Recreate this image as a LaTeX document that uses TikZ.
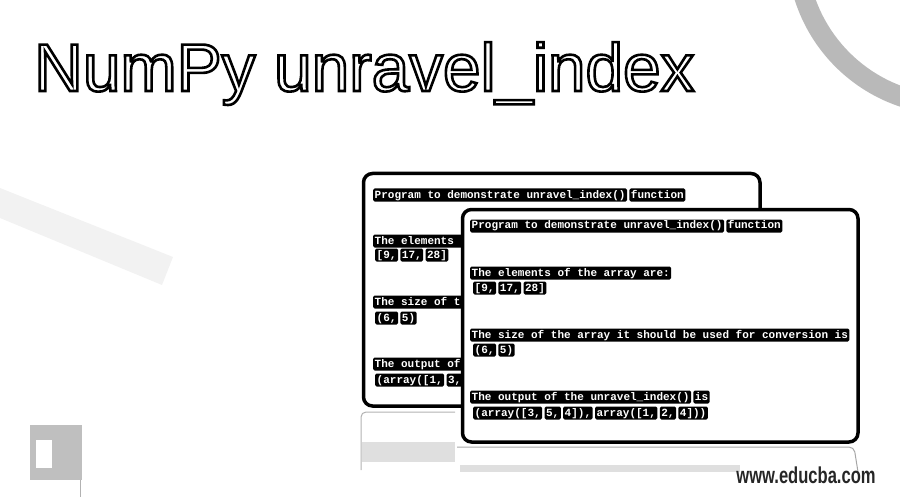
\documentclass[tikz,border=0pt]{standalone}
\usepackage{fontspec}
\setmainfont{Liberation Sans}
\setmonofont{Liberation Mono}
\usetikzlibrary{positioning}
\tikzset{
  tb/.style={fill=black, text=white, font=\ttfamily\bfseries\fontsize{11}{11}\selectfont,
    inner xsep=1.5pt, inner ysep=1pt, rounded corners=1.5pt, text height=8.5pt, text depth=2.5pt, anchor=west},
  nx/.style={tb, right=2pt of #1},
  win/.style={draw=black, line width=3.5pt, rounded corners=9pt, fill=white},
}
\newcommand\outlinetext[1]{\special{pdf:literal direct 1 Tr 2.6 w}#1\special{pdf:literal direct 0 Tr}}
\begin{document}
\begin{tikzpicture}[x=1pt,y=-1pt]
\useasboundingbox (0,0) rectangle (900,500);
\begin{scope}
\clip (0,0) rectangle (900,500);
% decorations
\fill[gray!55, even odd rule] (952,-50) circle[radius=165pt] (952,-50) circle[radius=145pt];
\fill[gray!10] (0,188) -- (173,257) -- (162,285) -- (0,218) -- cycle;
\fill[gray!50] (30,425) rectangle (82,480);
\fill[white] (36,440) rectangle (52,468);
\draw[gray!60, line width=1pt] (80,480) -- (80,497);
\end{scope}
% base under windows
\draw[gray!60, line width=1pt, rounded corners=5pt] (361,470) -- (361,412) -- (455,412);
\fill[gray!25] (362,442) rectangle (455,462);
\fill[gray!25] (460,465) rectangle (740,472);
\draw[gray!70, line width=1pt, rounded corners=5pt] (457,447) -- (854,447) -- (858,472);
% back window
\node[win, minimum width=396.5pt, minimum height=232.5pt, anchor=north west] (back) at (361.75,171.75) {};
\node[tb] (b1a) at (373,195) {Program to demonstrate unravel\_index()};
\node[nx=b1a] (b1b) {function};
\node[tb] (b2) at (373,241) {The elements of the array are:};
\node[tb] (b3a) at (375,255) {[9,};
\node[nx=b3a] (b3b) {17,};
\node[nx=b3b] (b3c) {28]};
\node[tb] (b4) at (373,302) {The size of the array it should be used for conversion is};
\node[tb] (b5a) at (375,318) {(6,};
\node[nx=b5a] (b5b) {5)};
\node[tb] (b6) at (373,364) {The output of the unravel\_index() is};
\node[tb] (b7a) at (375,380) {(array([1,};
\node[nx=b7a] (b7b) {3,};
% front window
\node[win, minimum width=395.5pt, minimum height=232.5pt, anchor=north west] (front) at (460.75,207.75) {};
\node[tb] (f1a) at (470,226) {Program to demonstrate unravel\_index()};
\node[nx=f1a] (f1b) {function};
\node[tb] (f2) at (470,273) {The elements of the array are:};
\node[tb] (f3a) at (473,288) {[9,};
\node[nx=f3a] (f3b) {17,};
\node[nx=f3b] (f3c) {28]};
\node[tb] (f4) at (470,335) {The size of the array it should be used for conversion is};
\node[tb] (f5a) at (473,350) {(6,};
\node[nx=f5a] (f5b) {5)};
\node[tb] (f6a) at (470,397) {The output of the unravel\_index()};
\node[nx=f6a] (f6b) {is};
\node[tb] (f7a) at (473,413) {(array([3,};
\node[nx=f7a] (f7b) {5,};
\node[nx=f7b] (f7c) {4]),};
\node[nx=f7c] (f7d) {array([1,};
\node[nx=f7d] (f7e) {2,};
\node[nx=f7e] (f7f) {4]))};
% title
\node[anchor=base west, inner sep=0pt, font=\fontsize{67.5}{67.5}\selectfont] (title) at (34,91)
  {\outlinetext{NumPy unravel\_index}};
% watermark
\node[anchor=center, inner sep=0pt, xscale=0.72, font=\bfseries\fontsize{23}{23}\selectfont, text=black!85] (url) at (806,475) {www.educba.com};
\end{tikzpicture}
\end{document}
